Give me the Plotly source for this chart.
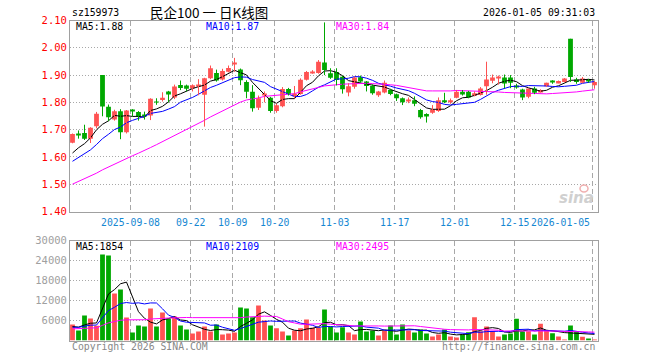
import plotly.graph_objects as go
import pandas as pd

# ---------------- data ----------------
tick_index = [10, 20, 27, 34, 44, 54, 64, 74, 87]
tick_labels = ["2025-09-08", "09-22", "10-09", "10-20", "11-03", "11-17", "12-01", "12-15", "2026-01-05"]

open_p = [1.652, 1.684, 1.688, 1.667, 1.712, 1.900, 1.784, 1.737, 1.767, 1.690,
          1.772, 1.765, 1.752, 1.752, 1.802, 1.809, 1.840, 1.818, 1.864, 1.862,
          1.852, 1.860, 1.828, 1.888, 1.908, 1.884, 1.912, 1.940, 1.920, 1.875,
          1.839, 1.780, 1.826, 1.817, 1.768, 1.786, 1.849, 1.822, 1.831, 1.883,
          1.909, 1.908, 1.946, 1.907, 1.911, 1.894, 1.836, 1.857, 1.892, 1.876,
          1.860, 1.826, 1.836, 1.845, 1.830, 1.815, 1.806, 1.808, 1.772, 1.757,
          1.762, 1.768, 1.808, 1.800, 1.817, 1.839, 1.839, 1.824, 1.827, 1.859,
          1.879, 1.889, 1.891, 1.891, 1.858, 1.847, 1.821, 1.851, 1.839, 1.859,
          1.876, 1.872, 1.875, 2.033, 1.884, 1.872, 1.882, 1.863]
high_p = [1.686, 1.697, 1.718, 1.709, 1.765, 1.900, 1.792, 1.773, 1.775, 1.772,
          1.775, 1.768, 1.766, 1.815, 1.815, 1.837, 1.842, 1.865, 1.880, 1.865,
          1.866, 1.885, 1.890, 1.935, 1.920, 1.923, 1.935, 1.963, 1.924, 1.881,
          1.863, 1.825, 1.840, 1.820, 1.795, 1.856, 1.853, 1.860, 1.888, 1.915,
          1.918, 1.955, 2.093, 1.925, 1.925, 1.898, 1.870, 1.895, 1.898, 1.878,
          1.866, 1.842, 1.880, 1.850, 1.832, 1.818, 1.818, 1.822, 1.776, 1.760,
          1.790, 1.818, 1.835, 1.814, 1.845, 1.845, 1.842, 1.840, 1.856, 1.949,
          1.902, 1.898, 1.902, 1.900, 1.868, 1.850, 1.851, 1.857, 1.848, 1.872,
          1.881, 1.880, 1.889, 2.033, 1.890, 1.893, 1.886, 1.878]
low_p = [1.650, 1.667, 1.662, 1.651, 1.705, 1.749, 1.731, 1.733, 1.665, 1.686,
         1.748, 1.733, 1.737, 1.735, 1.791, 1.803, 1.800, 1.812, 1.845, 1.840,
         1.840, 1.826, 1.711, 1.885, 1.876, 1.880, 1.910, 1.912, 1.863, 1.815,
         1.766, 1.772, 1.800, 1.762, 1.762, 1.782, 1.825, 1.815, 1.828, 1.880,
         1.905, 1.905, 1.900, 1.886, 1.862, 1.832, 1.822, 1.850, 1.872, 1.840,
         1.828, 1.820, 1.833, 1.826, 1.805, 1.790, 1.797, 1.786, 1.740, 1.726,
         1.758, 1.765, 1.797, 1.795, 1.815, 1.825, 1.815, 1.822, 1.825, 1.828,
         1.870, 1.865, 1.852, 1.852, 1.850, 1.808, 1.815, 1.830, 1.836, 1.857,
         1.868, 1.870, 1.873, 1.875, 1.868, 1.870, 1.872, 1.850]
close_p = [1.684, 1.681, 1.667, 1.707, 1.758, 1.785, 1.745, 1.767, 1.690, 1.770,
           1.770, 1.747, 1.750, 1.813, 1.800, 1.817, 1.829, 1.858, 1.853, 1.850,
           1.863, 1.863, 1.888, 1.925, 1.880, 1.915, 1.926, 1.942, 1.881, 1.839,
           1.778, 1.815, 1.832, 1.768, 1.789, 1.849, 1.830, 1.832, 1.883, 1.911,
           1.912, 1.949, 1.919, 1.890, 1.882, 1.848, 1.859, 1.891, 1.876, 1.860,
           1.833, 1.840, 1.872, 1.831, 1.815, 1.800, 1.810, 1.795, 1.745, 1.748,
           1.774, 1.808, 1.800, 1.808, 1.839, 1.829, 1.818, 1.833, 1.851, 1.884,
           1.891, 1.891, 1.869, 1.872, 1.856, 1.818, 1.851, 1.835, 1.845, 1.872,
           1.874, 1.878, 1.887, 1.893, 1.875, 1.887, 1.880, 1.875]
volume = [4800, 3000, 7500, 6600, 4400, 25800, 25500, 14100, 15300, 6900,
          2400, 4500, 4200, 9600, 4200, 8400, 6500, 7200, 4500, 3300,
          2100, 2700, 4200, 2700, 4800, 1800, 2100, 2400, 9900, 9600,
          7000, 10500, 6000, 4500, 3700, 2700, 1500, 3000, 3700, 6300,
          3800, 3800, 9300, 4200, 2400, 4000, 2400, 1800, 5700, 2700,
          3000, 1500, 3000, 4500, 1800, 4800, 3000, 2400, 3300, 2100,
          1200, 1800, 3300, 1200, 900, 1800, 2480, 7000, 2800, 4200,
          2800, 1200, 1800, 2100, 6500, 2700, 2800, 1800, 5000, 3100,
          2200, 1220, 300, 4500, 2800, 1100, 600, 270]

# closes / volumes of the 29 sessions before the window, estimated from where the MA lines start
prior_close = [1.392, 1.398, 1.404, 1.413, 1.417, 1.426, 1.432, 1.440, 1.446, 1.453,
               1.462, 1.468, 1.477, 1.483, 1.490, 1.499, 1.506, 1.512, 1.522, 1.529,
               1.538, 1.545, 1.553, 1.562, 1.570, 1.585, 1.592, 1.601, 1.610]
prior_volume = [3100, 2800, 3500, 2900, 3300, 3000, 2700, 3400, 3200,
                3600, 3100, 3300, 2900, 3800, 3400, 3200, 3600, 3000, 3500,
                3700, 3300, 3900, 3600, 4100, 3800, 3900, 4300, 4000, 4000]

price_ticks = [1.40, 1.50, 1.60, 1.70, 1.80, 1.90, 2.00, 2.10]
vol_ticks = [6000, 12000, 18000, 24000, 30000]
price_ma_labels = ["MA5:1.88", "MA10:1.87", "MA30:1.84"]
vol_ma_labels = ["MA5:1854", "MA10:2109", "MA30:2495"]

# ---------------- styling ----------------
W, H = 660, 360
UP, DOWN = "#FF5252", "#00A800"
MA_COLORS = ["#000000", "#0000FF", "#FF00FF"]
MONO = "DejaVu Sans Mono"
FS = 9.8
GRID = "#A8A8A8"
BORDER = "#A0A0A0"

n = len(close_p)
idx = list(range(n))
hist = len(prior_close)
full_c = pd.Series(prior_close + close_p)
full_v = pd.Series(prior_volume + volume)
ma_p = [full_c.rolling(w).mean().iloc[hist:].tolist() for w in (5, 10, 30)]
ma_v = [full_v.rolling(w).mean().iloc[hist:].tolist() for w in (5, 10, 30)]

colors = [UP if c > o else DOWN for o, c in zip(open_p, close_p)]
body_base = [min(o, c) for o, c in zip(open_p, close_p)]
body_h = [max(abs(c - o), 0.0028) for o, c in zip(open_p, close_p)]

fig = go.Figure()

# MA lines (price)
for ma, col in zip(ma_p, MA_COLORS):
    fig.add_trace(go.Scatter(x=idx, y=ma, mode="lines", line=dict(color=col, width=1),
                             xaxis="x", yaxis="y", hoverinfo="skip"))

# wicks
for col in (UP, DOWN):
    wx, wy = [], []
    for i in idx:
        if colors[i] == col:
            wx += [i, i, None]
            wy += [low_p[i], high_p[i], None]
    fig.add_trace(go.Scatter(x=wx, y=wy, mode="lines", line=dict(color=col, width=1),
                             xaxis="x", yaxis="y", hoverinfo="skip"))

# bodies
fig.add_trace(go.Bar(x=idx, y=body_h, base=body_base, width=0.8,
                     marker=dict(color=colors, line=dict(width=0)),
                     xaxis="x", yaxis="y"))

# volume
fig.add_trace(go.Bar(x=idx, y=volume, width=0.8,
                     marker=dict(color=colors, line=dict(width=0)),
                     xaxis="x2", yaxis="y2"))
for ma, col in zip(ma_v, MA_COLORS):
    fig.add_trace(go.Scatter(x=idx, y=ma, mode="lines", line=dict(color=col, width=1),
                             xaxis="x2", yaxis="y2", hoverinfo="skip"))

x0, x1 = 70, 598
xdom = [x0 / W, x1 / W]
xr = [-0.4167, n - 1 + 0.5833]
grid_x = [t - 0.333 for t in tick_index]


def yd(top, bottom):
    return [1 - bottom / H, 1 - top / H]


xaxis_common = dict(domain=xdom, range=xr, tickvals=grid_x, showticklabels=False, ticks="",
                    showgrid=True, gridcolor=GRID, griddash="5px,3px", gridwidth=1,
                    showline=True, linecolor=BORDER, linewidth=1, mirror=True, zeroline=False,
                    fixedrange=True, automargin=False)
fig.update_layout(
    width=W, height=H, autosize=False, margin=dict(l=0, r=0, t=0, b=0, pad=0),
    paper_bgcolor="white", plot_bgcolor="white", showlegend=False,
    xaxis=dict(anchor="y", **xaxis_common),
    xaxis2=dict(anchor="y2", **xaxis_common),
    yaxis=dict(domain=yd(20.5, 211.5), range=[1.40, 2.10], tickvals=price_ticks,
               ticktext=[f"{v:.2f}" for v in price_ticks], ticks="", automargin=False,
               tickfont=dict(family=MONO, size=10.5, color="#FF0000"),
               showgrid=True, gridcolor=GRID, griddash="1px,2px", gridwidth=1,
               showline=True, linecolor=BORDER, linewidth=1, mirror=True, zeroline=False),
    yaxis2=dict(domain=yd(240.5, 340.5), range=[0, 30000], tickvals=vol_ticks,
                ticktext=[str(v) for v in vol_ticks], ticks="", automargin=False,
                tickfont=dict(family=MONO, size=10.5, color="#A0A0A0"),
                showgrid=True, gridcolor=GRID, griddash="1px,2px", gridwidth=1,
                showline=True, linecolor=BORDER, linewidth=1, mirror=True, zeroline=False),
)

ann = []
# date labels
for t, lab, gx in zip(tick_index, tick_labels, grid_x):
    last = t == tick_index[-1]
    ann.append(dict(x=gx, y=1 - 222 / H, xref="x", yref="paper", text=lab, showarrow=False,
                    xanchor="right" if last else "center", yanchor="middle",
                    xshift=-1 if last else 0,
                    font=dict(family=MONO, size=FS, color="#1587D2")))
# MA labels
ma_x = [74, 204, 334]
for lab, col, mx in zip(price_ma_labels, MA_COLORS, ma_x):
    ann.append(dict(x=mx / W, y=1 - 26.5 / H, xref="paper", yref="paper", text=lab, showarrow=False,
                    xanchor="left", yanchor="middle", font=dict(family=MONO, size=FS, color=col)))
for lab, col, mx in zip(vol_ma_labels, MA_COLORS, ma_x):
    ann.append(dict(x=mx / W, y=1 - 246 / H, xref="paper", yref="paper", text=lab, showarrow=False,
                    xanchor="left", yanchor="middle", font=dict(family=MONO, size=FS, color=col)))
# header
ann.append(dict(x=70 / W, y=1 - 13 / H, xref="paper", yref="paper", text="sz159973", showarrow=False,
                xanchor="left", yanchor="middle", font=dict(family=MONO, size=FS, color="#000")))
ann.append(dict(x=209 / W, y=1 - 12.5 / H, xref="paper", yref="paper", text="民企100 一 日K线图",
                showarrow=False, xanchor="center", yanchor="middle",
                font=dict(family="Noto Sans CJK SC", size=13.5, color="#000")))
ann.append(dict(x=597 / W, y=1 - 13 / H, xref="paper", yref="paper", text="2026-01-05 09:31:03",
                showarrow=False, xanchor="right", yanchor="middle",
                font=dict(family=MONO, size=FS, color="#000")))
# footer
ann.append(dict(x=70 / W, y=1 - 346 / H, xref="paper", yref="paper", text="Copyright 2026 SINA.COM",
                showarrow=False, xanchor="left", yanchor="middle",
                font=dict(family=MONO, size=FS, color="#888")))
ann.append(dict(x=597 / W, y=1 - 346 / H, xref="paper", yref="paper", text="http://finance.sina.com.cn",
                showarrow=False, xanchor="right", yanchor="middle",
                font=dict(family=MONO, size=FS, color="#888")))
# watermark
ann.append(dict(x=596 / W, y=1 - 198 / H, xref="paper", yref="paper",
                text="<b><i>sina</i></b>",
                showarrow=False, xanchor="right", yanchor="middle",
                font=dict(family="DejaVu Sans", size=15, color="#D0D0D0")))
fig.update_layout(annotations=ann)
# small eye logo of the watermark (a shape, not text)
fig.add_shape(type="circle", xref="paper", yref="paper",
              x0=580 / W, x1=588 / W, y0=1 - 192 / H, y1=1 - 185 / H,
              line=dict(color="#F0B0B0", width=1.5), fillcolor="rgba(0,0,0,0)")

fig.write_html("out.html", config={"responsive": False, "displayModeBar": False},
               post_script="document.body.style.margin='0';document.body.style.padding='0';")
